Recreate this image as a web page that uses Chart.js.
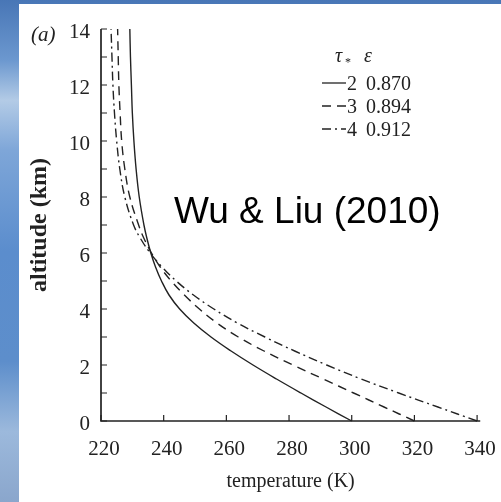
<!DOCTYPE html>
<html>
<head>
<meta charset="utf-8">
<script src="https://cdn.jsdelivr.net/npm/chart.js@4.4.1/dist/chart.umd.min.js"></script>
<style>
html, body { margin: 0; padding: 0; }
body {
    width: 501px; height: 502px; overflow: hidden; position: relative;
    background: linear-gradient(180deg, #4876b6 0%, #6c98cf 12%, #b3cbe6 20%, #7ea6d8 30%, #5b8dcd 50%, #5d8ecb 72%, #9cb9dc 86%, #8aa6cc 100%);
}
#panel { position: absolute; left: 19px; top: 4px; right: 0; bottom: 0; background: #fff; }
#wrap { position: absolute; left: 0; top: 0; width: 501px; height: 502px; }
</style>
</head>
<body>
<div id="panel"></div>
<div id="wrap"><canvas id="profileChart"></canvas></div>
<script>
// Données (altitude en km, température en K)
const altitude = [0, 0.5, 1, 1.5, 2, 2.5, 3, 3.5, 4, 4.5, 5, 5.5, 6, 6.5, 7, 8, 9, 10, 11, 12, 13, 14];
const tempTau2 = [300, 291.8, 283.8, 276, 268.5, 261.5, 255.1, 249.6, 245.1, 241.7, 239.3, 237.4, 235.9, 234.7, 233.7, 232.2, 231.2, 230.5, 230, 229.7, 229.4, 229.2];
const tempTau3 = [320, 310.3, 300.6, 290.9, 281.2, 272, 263.8, 257, 251.4, 246.6, 242.4, 238.9, 236.1, 233.8, 232, 229.2, 227.6, 226.6, 226.1, 225.7, 225.5, 225.3];
const tempTau4 = [340, 327.5, 315, 303, 292, 281.8, 272.3, 263.5, 256, 249.5, 244, 239.5, 235.7, 232.7, 230.4, 227.6, 226, 225, 224.3, 223.8, 223.5, 223.2];

const tauValues = ['2', '3', '4'];
const epsValues = ['0.870', '0.894', '0.912'];

const xTicks = [220, 240, 260, 280, 300, 320, 340];
const yTicks = [0, 2, 4, 6, 8, 10, 12, 14];
const yMinorTicks = [1, 3, 5, 7, 9, 11, 13];

const serif = '"Liberation Serif", "DejaVu Serif", serif';
const dashes = [[], [9, 6], [9, 4, 2, 4]];

function toPoints(temps) {
    return altitude.map((z, i) => ({ x: temps[i], y: z }));
}

// Axes avec graduations vers l'intérieur + légende + annotation
const axesPlugin = {
    id: 'axesPlugin',
    afterDraw(chart) {
        const { ctx, chartArea, scales } = chart;
        const xs = scales.x, ys = scales.y;
        ctx.save();
        ctx.strokeStyle = '#222';
        ctx.lineWidth = 1.7;
        ctx.beginPath();
        ctx.moveTo(chartArea.left, chartArea.top);
        ctx.lineTo(chartArea.left, chartArea.bottom);
        ctx.lineTo(chartArea.right, chartArea.bottom);
        ctx.stroke();

        ctx.lineWidth = 1.2;
        ctx.beginPath();
        xTicks.forEach(v => {
            const px = xs.getPixelForValue(v);
            ctx.moveTo(px, chartArea.bottom);
            ctx.lineTo(px, chartArea.bottom - 6);
        });
        yTicks.concat(yMinorTicks).forEach(v => {
            const py = ys.getPixelForValue(v);
            ctx.moveTo(chartArea.left, py);
            ctx.lineTo(chartArea.left + 6, py);
        });
        ctx.stroke();

        // (a)
        ctx.fillStyle = '#222';
        ctx.font = 'italic 21px ' + serif;
        ctx.textBaseline = 'alphabetic';
        ctx.textAlign = 'left';
        ctx.fillText('(a)', 31, 41);

        // Légende
        ctx.font = 'italic 20px ' + serif;
        ctx.fillText('τ', 335, 62);
        ctx.font = '12px ' + serif;
        ctx.fillText('*', 345, 66);
        ctx.font = 'italic 20px ' + serif;
        ctx.fillText('ε', 364, 62);

        ctx.font = '20px ' + serif;
        tauValues.forEach((tau, i) => {
            const y = 83 + i * 23;
            ctx.setLineDash(dashes[i]);
            ctx.lineWidth = 1.3;
            ctx.beginPath();
            ctx.moveTo(322, y);
            ctx.lineTo(346, y);
            ctx.stroke();
            ctx.setLineDash([]);
            ctx.fillText(tau, 347, y + 7);
            ctx.fillText(epsValues[i], 366, y + 7);
        });

        // Annotation
        ctx.font = '37px "Liberation Sans", Arial, sans-serif';
        ctx.fillStyle = '#000';
        ctx.fillText('Wu & Liu (2010)', 174, 223);
        ctx.restore();
    }
};

const ctx = document.getElementById('profileChart').getContext('2d');
const profileChart = new Chart(ctx, {
    type: 'scatter',
    data: {
        datasets: [tempTau2, tempTau3, tempTau4].map((temps, i) => ({
            label: 'τ* = ' + tauValues[i],
            data: toPoints(temps),
            showLine: true,
            borderColor: '#222',
            borderWidth: 1.4,
            borderDash: dashes[i],
            pointRadius: 0,
            tension: 0.4,
            clip: 6
        }))
    },
    plugins: [axesPlugin],
    options: {
        responsive: true,
        maintainAspectRatio: false,
        animation: false,
        layout: { padding: { left: 0, top: 29, right: 19, bottom: 0 } },
        plugins: { legend: { display: false }, tooltip: { enabled: false } },
        scales: {
            x: {
                type: 'linear',
                min: 220,
                max: 341,
                afterBuildTicks: s => { s.ticks = xTicks.map(v => ({ value: v })); },
                afterFit: s => { s.height = 81; },
                grid: { display: false },
                border: { display: false },
                ticks: { color: '#222', padding: 8, labelOffset: 3, font: { family: serif, size: 21 } },
                title: { display: true, text: 'temperature (K)', color: '#222', padding: { top: 0, bottom: 8 }, font: { family: serif, size: 20 } }
            },
            y: {
                type: 'linear',
                min: 0,
                max: 14,
                afterBuildTicks: s => { s.ticks = yTicks.map(v => ({ value: v })); },
                afterFit: s => { s.width = 101; },
                grid: { display: false },
                border: { display: false },
                ticks: { color: '#222', padding: 3, labelOffset: 3, font: { family: serif, size: 21 } },
                title: { display: true, text: 'altitude (km)', color: '#222', padding: { top: 25, bottom: 0 }, font: { family: serif, size: 24, weight: 'bold' } }
            }
        }
    }
});
</script>
</body>
</html>
